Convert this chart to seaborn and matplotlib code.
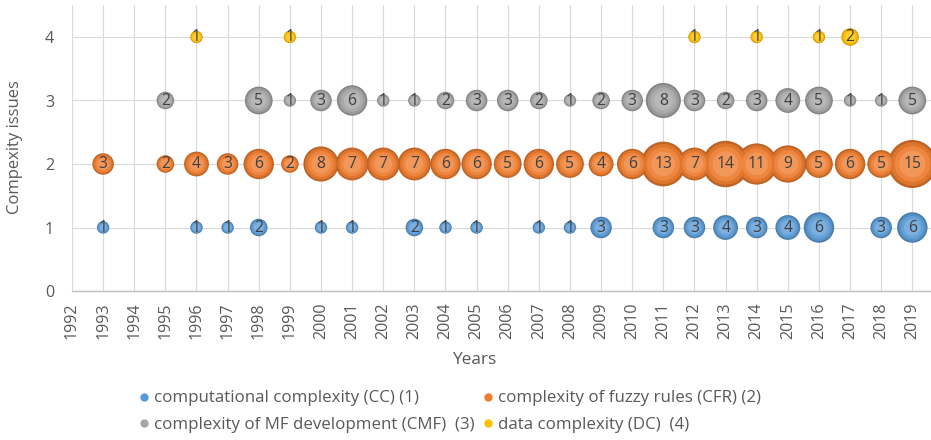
import numpy as np
import pandas as pd
import matplotlib
matplotlib.use("Agg")
import matplotlib.pyplot as plt
from matplotlib.colors import to_rgb
from matplotlib.lines import Line2D
import seaborn as sns

# ---------------------------------------------------------------------------
# data (year, number of papers) for each complexity issue
# ---------------------------------------------------------------------------
series_names = ["computational complexity (CC) (1)",
                "complexity of fuzzy rules (CFR) (2)",
                "complexity of MF development (CMF)  (3)",
                "data complexity (DC)  (4)"]
series_level = [1, 2, 3, 4]
series_colors = ["#5b9bd5", "#ed7d31", "#a5a5a5", "#ffc000"]

cc_years = [1993, 1996, 1997, 1998, 2000, 2001, 2003, 2004, 2005, 2007,
            2008, 2009, 2011, 2012, 2013, 2014, 2015, 2016, 2018, 2019]
cc_counts = [1, 1, 1, 2, 1, 1, 2, 1, 1, 1,
             1, 3, 3, 3, 4, 3, 4, 6, 3, 6]

cfr_years = [1993, 1995, 1996, 1997, 1998, 1999, 2000, 2001, 2002, 2003,
             2004, 2005, 2006, 2007, 2008, 2009, 2010, 2011, 2012, 2013,
             2014, 2015, 2016, 2017, 2018, 2019]
cfr_counts = [3, 2, 4, 3, 6, 2, 8, 7, 7, 7,
              6, 6, 5, 6, 5, 4, 6, 13, 7, 14,
              11, 9, 5, 6, 5, 15]

cmf_years = [1995, 1998, 1999, 2000, 2001, 2002, 2003, 2004, 2005, 2006,
             2007, 2008, 2009, 2010, 2011, 2012, 2013, 2014, 2015, 2016,
             2017, 2018, 2019]
cmf_counts = [2, 5, 1, 3, 6, 1, 1, 2, 3, 3,
              2, 1, 2, 3, 8, 3, 2, 3, 4, 5,
              1, 1, 5]

dc_years = [1996, 1999, 2012, 2014, 2016, 2017]
dc_counts = [1, 1, 1, 1, 1, 2]

year_ticks = list(range(1992, 2020))

# long table for seaborn
frames = []
for name, lvl, yrs, cnt in zip(series_names, series_level,
                               [cc_years, cfr_years, cmf_years, dc_years],
                               [cc_counts, cfr_counts, cmf_counts, dc_counts]):
    frames.append(pd.DataFrame({"year": yrs, "issue": lvl,
                                "count": cnt, "series": name}))
df = pd.concat(frames, ignore_index=True)


def shade(col, f):
    """f < 0 darkens toward black, f > 0 lightens toward white."""
    c = np.array(to_rgb(col))
    if f < 0:
        return tuple(c * (1 + f))
    return tuple(c + (1 - c) * f)


# ---------------------------------------------------------------------------
sns.set_style("white")
plt.rcParams["font.family"] = ["Open Sans", "DejaVu Sans"]
text_col = "#595959"

fig = plt.figure(figsize=(9.31, 4.40), dpi=100)
renderer = fig.canvas.get_renderer()


def fit_size(s, width_px, base=10.0):
    """font size (pt) that makes string s about width_px wide"""
    t = fig.text(0, 0, s, fontsize=base)
    w = t.get_window_extent(renderer).width
    t.remove()
    return base * width_px / w


fs_tick = fit_size("1992", 37)
fs_ylab = fit_size("Compexity issues", 135)
fs_years = fit_size("Years", 44)
fs_bubble = fit_size("15", 18)
fs_leg = 0.5 * (fit_size(series_names[0], 261) + fit_size(series_names[2], 321))

ax = fig.add_axes([72 / 931, 1 - 291 / 440, 1 - 72 / 931, 285.75 / 440])

# bubble area proportional to the count (Excel style); a few concentric
# layers from dark rim to light centre fake the 3-D shading
layers = [(1.00, -0.20), (0.80, -0.06), (0.55, 0.07), (0.30, 0.20)]
for scale, f in layers:
    sns.scatterplot(data=df, x="year", y="issue", hue="series", size="count",
                    palette={n: shade(c, f) for n, c in zip(series_names, series_colors)},
                    sizes=(80 * scale, 1200 * scale), size_norm=(1, 15),
                    edgecolor="none", linewidth=0, legend=False,
                    zorder=3, ax=ax)
for coll in ax.collections:
    coll.set_clip_on(False)

for _, row in df.iterrows():
    ax.text(row["year"], row["issue"], str(row["count"]),
            ha="center", va="center", fontsize=fs_bubble, color="#404040",
            zorder=5, clip_on=False)

ax.set_xlim(1992, 2019.6)
ax.set_ylim(0, 4.5)
ax.set_xticks(year_ticks)
ax.set_xticklabels([str(y) for y in year_ticks], rotation=90,
                   fontsize=fs_tick, color=text_col)
ax.set_yticks([0, 1, 2, 3, 4])
ax.set_yticklabels(["0", "1", "2", "3", "4"], fontsize=fs_tick, color=text_col)
ax.tick_params(axis="x", length=0, pad=8.5)
ax.tick_params(axis="y", length=0, pad=13)

ax.grid(True, color="#d9d9d9", linewidth=0.8)
ax.set_axisbelow(True)
for side in ["top", "right", "left"]:
    ax.spines[side].set_visible(False)
ax.spines["bottom"].set_color("#bfbfbf")
ax.spines["bottom"].set_linewidth(1.0)

ax.set_xlabel("")
ax.set_ylabel("Compexity issues", fontsize=fs_ylab, color=text_col, va="center")
ax.yaxis.set_label_coords(-(72 - 15) / 859, 0.502)
fig.text(475 / 931, 1 - 360 / 440, "Years", ha="center", va="center",
         fontsize=fs_years, color=text_col)

# legend filled row by row: CC, CFR / CMF, DC
leg_px = fs_leg * 100 / 72
t = fig.text(0, 0, series_names[2], fontsize=fs_leg)
cmf_w = t.get_window_extent(renderer).width
t.remove()
hl, htp = 0.7, 0.24
x0 = 130
col_sp = (474 - (x0 + (hl + htp) * leg_px + cmf_w)) / leg_px
lab_sp = max(0.05, (33 - 1.362 * leg_px) / leg_px)

order = [0, 2, 1, 3]
handles = [Line2D([0], [0], marker="o", linestyle="none", markersize=6,
                  markerfacecolor=series_colors[i], markeredgecolor="none",
                  label=series_names[i]) for i in order]
leg = fig.legend(handles=handles, ncol=2, frameon=False,
                 loc="center left", bbox_to_anchor=(x0 / 931, 1 - 411.5 / 440),
                 fontsize=fs_leg, handlelength=hl, handletextpad=htp,
                 columnspacing=col_sp, labelspacing=lab_sp, borderpad=0)
for t in leg.get_texts():
    t.set_color(text_col)

fig.savefig("out.png", dpi=100)
